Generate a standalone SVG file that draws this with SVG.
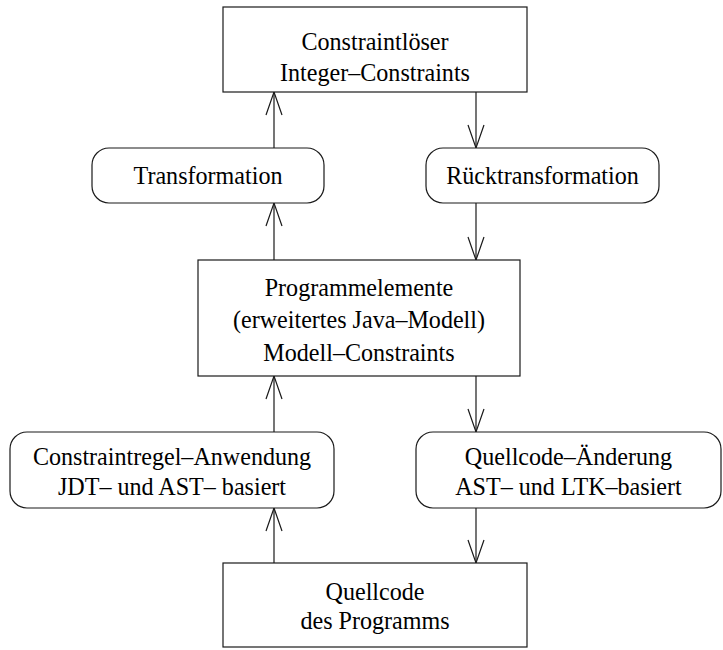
<svg xmlns="http://www.w3.org/2000/svg" width="723" height="650" viewBox="0 0 723 650">
  <style>
    .box { fill: #ffffff; stroke: #1a1a1a; stroke-width: 1.2; }
    .lbl { font-family: "Liberation Serif", "Times New Roman", serif; font-size: 25.2px; fill: #000000; text-anchor: middle; }
    .edge { fill: none; stroke: #1a1a1a; stroke-width: 1.2; marker-end: url(#vee); }
  </style>
  <defs>
    <marker id="vee" markerUnits="userSpaceOnUse" markerWidth="30" markerHeight="30" refX="0" refY="0" orient="auto" overflow="visible">
      <path d="M-23,-8 L0,0 L-23,8" fill="none" stroke="#1a1a1a" stroke-width="1.2"/>
    </marker>
  </defs>
  <rect x="0" y="0" width="723" height="650" fill="#ffffff"/>

  <g id="connectors">
    <path class="edge" d="M274,148 L274,92"/>
    <path class="edge" d="M476,92 L476,148"/>
    <path class="edge" d="M274,260 L274,203"/>
    <path class="edge" d="M476,203 L476,260"/>
    <path class="edge" d="M274,432 L274,376"/>
    <path class="edge" d="M476,376 L476,432"/>
    <path class="edge" d="M274,563 L274,508"/>
    <path class="edge" d="M476,508 L476,563"/>
  </g>

  <!-- labels use a slightly narrowed serif face: x positions are divided by the 0.956 squeeze -->
  <g id="solver">
    <rect class="box" x="223" y="7" width="304" height="85"/>
    <g transform="scale(0.956,1)">
      <text class="lbl" x="392.26" y="50">Constraintlöser</text>
      <text class="lbl" x="392.26" y="81">Integer–Constraints</text>
    </g>
  </g>

  <g id="transformation">
    <rect class="box" x="92" y="148" width="232" height="55" rx="17" ry="17"/>
    <g transform="scale(0.956,1)">
      <text class="lbl" x="217.57" y="184">Transformation</text>
    </g>
  </g>

  <g id="ruecktransformation">
    <rect class="box" x="426" y="148" width="233" height="55" rx="17" ry="17"/>
    <g transform="scale(0.956,1)">
      <text class="lbl" x="567.47" y="184">Rücktransformation</text>
    </g>
  </g>

  <g id="programmelemente">
    <rect class="box" x="198" y="260" width="322" height="116"/>
    <g transform="scale(0.956,1)">
      <text class="lbl" x="375.52" y="296">Programmelemente</text>
      <text class="lbl" x="375.52" y="328">(erweitertes Java–Modell)</text>
      <text class="lbl" x="375.52" y="361">Modell–Constraints</text>
    </g>
  </g>

  <g id="constraintregel">
    <rect class="box" x="10" y="432" width="324" height="76" rx="17" ry="17"/>
    <g transform="scale(0.956,1)">
      <text class="lbl" x="179.92" y="465">Constraintregel–Anwendung</text>
      <text class="lbl" x="179.92" y="495">JDT– und AST– basiert</text>
    </g>
  </g>

  <g id="quellcode-aenderung">
    <rect class="box" x="416" y="432" width="305" height="76" rx="17" ry="17"/>
    <g transform="scale(0.956,1)">
      <text class="lbl" x="594.67" y="465">Quellcode–Änderung</text>
      <text class="lbl" x="594.67" y="495">AST– und LTK–basiert</text>
    </g>
  </g>

  <g id="quellcode">
    <rect class="box" x="223" y="563" width="304" height="84"/>
    <g transform="scale(0.956,1)">
      <text class="lbl" x="392.26" y="600">Quellcode</text>
      <text class="lbl" x="392.26" y="629">des Programms</text>
    </g>
  </g>
</svg>
